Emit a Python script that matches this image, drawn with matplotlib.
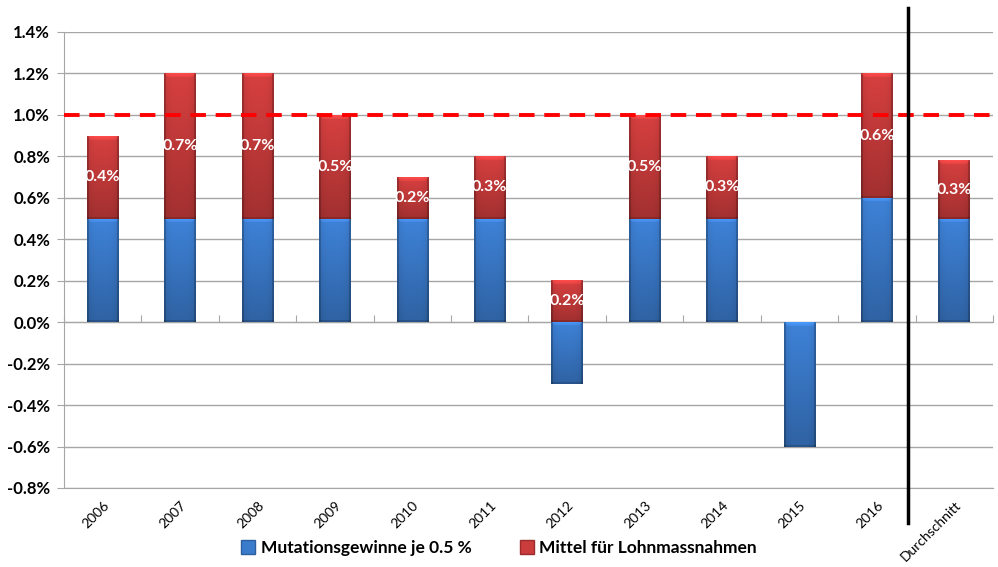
import numpy as np
import matplotlib.pyplot as plt
from matplotlib.colors import to_rgb
from matplotlib.patches import Patch

plt.rcParams["font.family"] = ["Lato", "DejaVu Sans"]

categories = ["2006", "2007", "2008", "2009", "2010", "2011",
              "2012", "2013", "2014", "2015", "2016", "Durchschnitt"]
mutation = [0.5, 0.5, 0.5, 0.5, 0.5, 0.5, -0.3, 0.5, 0.5, -0.6, 0.6, 0.5]
lohn = [0.4, 0.7, 0.7, 0.5, 0.2, 0.3, 0.2, 0.5, 0.3, 0.0, 0.6, 0.28]
yticks = [-0.8, -0.6, -0.4, -0.2, 0.0, 0.2, 0.4, 0.6, 0.8, 1.0, 1.2, 1.4]
target = 1.0

BLUE = "#3b7bcc"
RED = "#cb3c3c"
GRID = "#a6a6a6"


def shade_bar(ax, patch, color, px_x, px_y):
    """Paint a bar with a soft vertical gradient, dark rim and light top bevel."""
    x0, y0 = patch.get_x(), patch.get_y()
    w, h = patch.get_width(), patch.get_height()
    if h < 0:
        y0, h = y0 + h, -h
    if h == 0:
        return
    nx = max(int(round(w * px_x)), 4)
    ny = max(int(round(h * px_y)), 4)
    f = np.ones((ny, nx))
    f *= np.linspace(1.06, 0.80, ny)[:, None]
    u = np.linspace(-1, 1, nx)[None, :]
    f *= 1.0 - 0.10 * np.abs(u) ** 4
    f[:, :2] *= 0.82
    f[:, -2:] *= 0.82
    f[-2:, :] *= 0.85
    bevel = min(4, ny // 3)
    for i in range(bevel):
        f[i, i:nx - i] *= 1.18 - 0.03 * i
    img = np.clip(np.array(to_rgb(color))[None, None, :] * f[..., None], 0, 1)
    ax.imshow(img, extent=(x0, x0 + w, y0, y0 + h), origin="upper",
              aspect="auto", interpolation="bilinear", zorder=3)


fig = plt.figure(figsize=(9.98, 5.67), dpi=100)
ax = fig.add_axes([64 / 998, 79 / 567, 929 / 998, 456 / 567])

x = np.arange(len(categories))
mut = np.array(mutation)
red_bottom = np.clip(mut, 0, None)
blue_bars = ax.bar(x, mut, width=0.41, color=BLUE, zorder=2)
red_bars = ax.bar(x, lohn, width=0.41, bottom=red_bottom, color=RED, zorder=2)

xlim = (-0.5, len(categories) - 0.5)
ylim = (yticks[0], yticks[-1])
px_x = 929 / (xlim[1] - xlim[0])
px_y = 456 / (ylim[1] - ylim[0])
for bar in blue_bars:
    shade_bar(ax, bar, BLUE, px_x, px_y)
for bar in red_bars:
    shade_bar(ax, bar, RED, px_x, px_y)

# value labels inside the red segments
for xi, b, v in zip(x, red_bottom, lohn):
    if v > 0:
        ax.text(xi, b + v / 2, f"{v:.1f}%", ha="center", va="center",
                color="white", fontsize=11.5, fontweight="bold", zorder=5)

ax.axhline(target, color="#ff0000", lw=2.8, ls=(0, (4, 2.5)), zorder=4)

ax.set_xlim(xlim)
ax.set_ylim(ylim)
ax.set_yticks(yticks)
ax.set_yticklabels([f"{t:.1f}%" for t in yticks], fontsize=12, fontweight="bold")
ax.yaxis.grid(True, color=GRID, lw=1)
ax.set_axisbelow(True)
ax.tick_params(axis="y", length=5, color=GRID, pad=5)

ax.set_xticks(x)
ax.set_xticklabels(categories, rotation=45, ha="right", rotation_mode="anchor",
                   fontsize=10)
ax.tick_params(axis="x", length=0, pad=8)

for side in ("top", "right"):
    ax.spines[side].set_visible(False)
ax.spines["left"].set_color(GRID)
ax.spines["bottom"].set_color(GRID)

# category axis crossing at zero, with boundary ticks pointing down
zero_axis = ax.secondary_xaxis((0 - ylim[0]) / (ylim[1] - ylim[0]))
zero_axis.set_xticks(np.arange(xlim[0], xlim[1] + 0.5, 1.0))
zero_axis.set_xticklabels([])
zero_axis.tick_params(length=5, color=GRID, direction="in")
for spine in zero_axis.spines.values():
    spine.set_color(GRID)

# separator between the years and the average
ax.plot([10.4, 10.4], [-0.077, 1.053], transform=ax.get_xaxis_transform(),
        color="black", lw=2.5, clip_on=False, zorder=6)

handles = [Patch(facecolor=BLUE, edgecolor="#2d5f9e"),
           Patch(facecolor=RED, edgecolor="#9c2c2c")]
fig.legend(handles, ["Mutationsgewinne je 0.5 %", "Mittel für Lohnmassnahmen"],
           loc="center", bbox_to_anchor=(0.5, 1 - 548 / 567), ncol=2,
           frameon=False, prop={"size": 12.5, "weight": "bold"},
           handlelength=0.8, handleheight=0.8, handletextpad=0.3,
           columnspacing=2.8)

fig.savefig("out.png", dpi=100)
